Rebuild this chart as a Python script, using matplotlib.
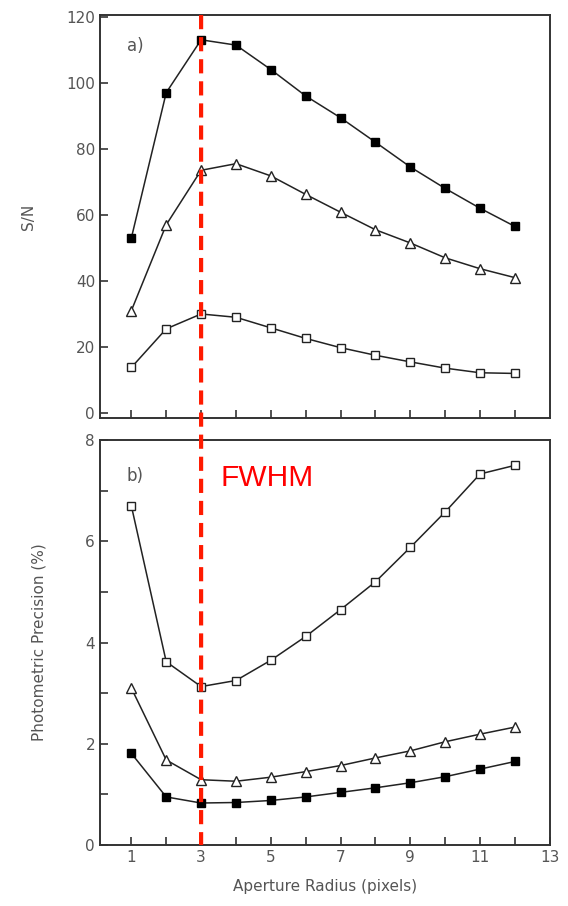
import numpy as np
import matplotlib
matplotlib.use("Agg")
import matplotlib.pyplot as plt
from matplotlib.patches import ConnectionPatch

radius = np.arange(1, 13)

# panel a) S/N
sn_filled = [53, 97, 113, 111.4, 104, 96, 89.4, 82, 74.5, 68, 62, 56.5]
sn_triangle = [31, 57, 73.5, 75.5, 71.8, 66.2, 60.8, 55.5, 51.5, 47, 43.7, 41]
sn_open = [13.8, 25.5, 30, 29, 25.8, 22.6, 19.8, 17.5, 15.5, 13.6, 12.2, 12]

# panel b) photometric precision (%)
pp_open = [6.7, 3.62, 3.13, 3.25, 3.65, 4.12, 4.65, 5.2, 5.88, 6.58, 7.33, 7.5]
pp_triangle = [3.1, 1.68, 1.29, 1.26, 1.34, 1.45, 1.57, 1.72, 1.86, 2.04, 2.19, 2.33]
pp_filled = [1.81, 0.95, 0.83, 0.84, 0.88, 0.95, 1.04, 1.13, 1.23, 1.35, 1.5, 1.65]

txt = "#555555"
fig = plt.figure(figsize=(5.68, 9.06), dpi=100)
ax1 = fig.add_axes([0.176, 0.5386, 0.792, 0.4448])
ax2 = fig.add_axes([0.176, 0.0673, 0.792, 0.447])

def draw(ax, filled, tri, opn):
    ax.plot(radius, filled, "-s", color="#222222", lw=1.1, ms=5.5,
            mfc="black", mec="black")
    ax.plot(radius, tri, "-^", color="#222222", lw=1.1, ms=7,
            mfc="white", mec="#222222", mew=1)
    ax.plot(radius, opn, "-s", color="#222222", lw=1.1, ms=5.5,
            mfc="white", mec="#222222", mew=1)
    ax.set_xlim(0.1, 13)
    for s in ax.spines.values():
        s.set_color("#333333")
        s.set_linewidth(1.4)
    ax.tick_params(direction="in", length=6, width=1.2, colors="#333333",
                   labelcolor=txt, labelsize=11)
    ax.tick_params(which="minor", direction="in", length=6, width=1.2,
                   colors="#333333")
    ax.tick_params(top=False, right=False)

draw(ax1, sn_filled, sn_triangle, sn_open)
ax1.set_ylim(-1.5, 120.5)
ax1.set_yticks([0, 20, 40, 60, 80, 100, 120])
ax1.set_xticks(radius)
ax1.set_xticklabels([])
ax1.set_ylabel("S/N", color=txt, fontsize=11, labelpad=22)
ax1.text(0.06, 0.91, "a)", transform=ax1.transAxes, color=txt, fontsize=12)

draw(ax2, pp_filled, pp_triangle, pp_open)
ax2.set_ylim(0, 7.97)
ax2.set_yticks([0, 2, 4, 6, 8])
ax2.set_yticks([1, 3, 5, 7], minor=True)
ax2.set_xticks([1, 3, 5, 7, 9, 11, 13])
ax2.set_xticks([2, 4, 6, 8, 10, 12], minor=True)
ax2.set_ylabel("Photometric Precision (%)", color=txt, fontsize=11, labelpad=28)
ax2.set_xlabel("Aperture Radius (pixels)", color=txt, fontsize=11, labelpad=10)
ax2.text(0.06, 0.90, "b)", transform=ax2.transAxes, color=txt, fontsize=12)
ax2.text(3.55, 7.1, "FWHM", color="red", fontsize=21.5, family="Liberation Sans")

con = ConnectionPatch(xyA=(3, 120.5), coordsA=ax1.transData,
                      xyB=(3, 0), coordsB=ax2.transData,
                      color="#ff1a00", lw=3, linestyle=(0, (3.4, 1.9)),
                      capstyle="butt")
fig.add_artist(con)

fig.savefig("out.png", dpi=100)
